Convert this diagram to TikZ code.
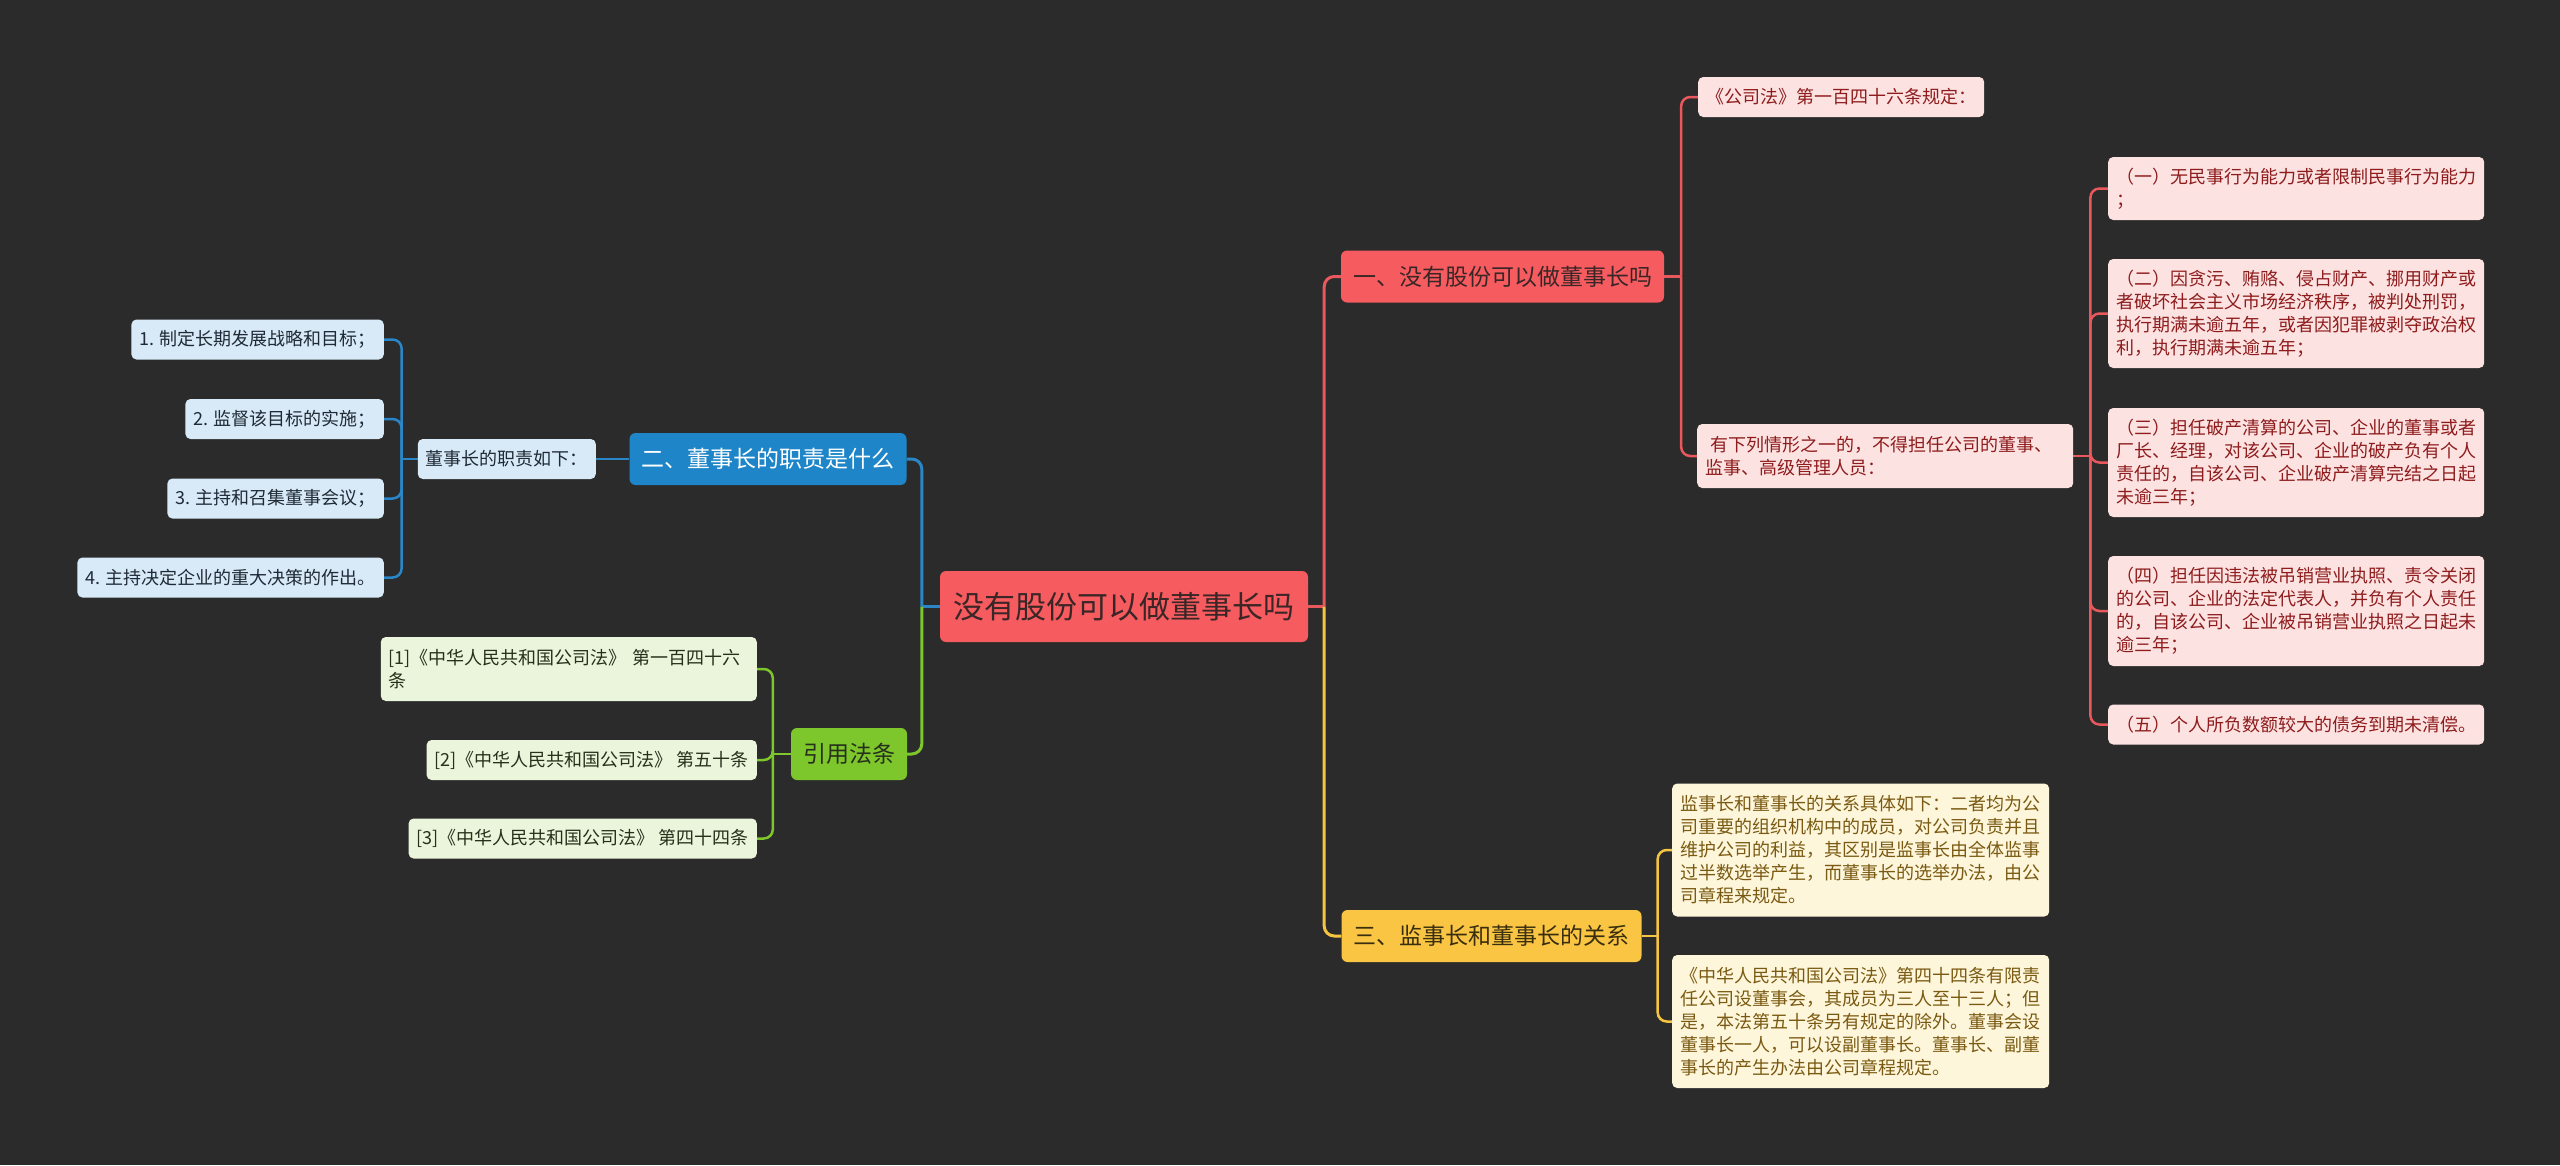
\documentclass[tikz,border=0pt]{standalone}
\usepackage{fontspec}
\setmainfont{Noto Sans CJK SC}
\usetikzlibrary{backgrounds,calc}
\definecolor{bg}{HTML}{2B2B2B}
\definecolor{rootfill}{HTML}{F65B5F}
\definecolor{darktext}{HTML}{3A2626}
\definecolor{redline}{HTML}{E9585D}
\definecolor{pinkfill}{HTML}{FDE2E2}
\definecolor{pinktext}{HTML}{8E1C1C}
\definecolor{bluefill}{HTML}{1E86C8}
\definecolor{blueline}{HTML}{2A86C6}
\definecolor{lbluefill}{HTML}{D8EAF7}
\definecolor{bluetext}{HTML}{1F2A36}
\definecolor{yelfill}{HTML}{F9C542}
\definecolor{yeltext}{HTML}{3A2E10}
\definecolor{yelline}{HTML}{F5C443}
\definecolor{creamfill}{HTML}{FEF6DA}
\definecolor{creamtext}{HTML}{7A5A12}
\definecolor{grnfill}{HTML}{7DC62B}
\definecolor{grnline}{HTML}{7DC62B}
\definecolor{lgrnfill}{HTML}{EAF5DB}
\definecolor{grntext}{HTML}{26301C}
\begin{document}
\begin{tikzpicture}[x=1pt,y=-1pt,
  rootbox/.style={rounded corners=6pt, fill=rootfill, text=darktext, font=\fontsize{31}{38}\selectfont, minimum width=368pt, minimum height=71pt, inner sep=0pt},
  branch/.style={rounded corners=6pt, font=\fontsize{23}{28}\selectfont, minimum height=52pt, inner xsep=12pt, inner ysep=0pt},
  leaf/.style={rounded corners=5pt, inner xsep=8pt, inner ysep=4pt, font=\fontsize{18}{23}\selectfont, minimum height=40pt},
  leafA/.style={leaf, fill=pinkfill, text=pinktext},
  leafB/.style={leaf, fill=lbluefill, text=bluetext},
  leafC/.style={leaf, fill=creamfill, text=creamtext},
  leafD/.style={leaf, fill=lgrnfill, text=grntext},
  multi/.style={text width=#1, align=left},
  conn/.style={line width=2.5pt, rounded corners=9pt},
  rootconn/.style={line width=3pt, rounded corners=10pt}
]
\useasboundingbox (0,0) rectangle (2560,1165);

% root and branches
\node[rootbox] (root) at (1124,606.5) {没有股份可以做董事长吗};
\node[branch, fill=rootfill, text=darktext, minimum width=321pt] (A) at (1502.5,276.5) {一、没有股份可以做董事长吗};
\node[branch, fill=bluefill, text=white, minimum width=276pt] (B) at (768,459) {二、董事长的职责是什么};
\node[branch, fill=yelfill, text=yeltext, minimum width=299pt] (C) at (1491.5,936) {三、监事长和董事长的关系};
\node[branch, fill=grnfill, text=grntext, minimum width=114pt] (D) at (849,754) {引用法条};

% branch A leaves
\node[leafA, anchor=west] (a1) at (1698,97) {《公司法》第一百四十六条规定：};
\node[leafA, anchor=west, multi=360pt, minimum height=64pt] (a2) at (1697,456) {\hspace*{0.3em}有下列情形之一的，不得担任公司的董事、\\监事、高级管理人员：};
\node[leafA, anchor=west, multi=360pt, minimum height=63pt] (a2a) at (2108,188.5) {（一）无民事行为能力或者限制民事行为能力\\；};
\node[leafA, anchor=west, multi=360pt, minimum height=109pt] (a2b) at (2108,313.5) {（二）因贪污、贿赂、侵占财产、挪用财产或\\者破坏社会主义市场经济秩序，被判处刑罚，\\执行期满未逾五年，或者因犯罪被剥夺政治权\\利，执行期满未逾五年；};
\node[leafA, anchor=west, multi=360pt, minimum height=109pt] (a2c) at (2108,462.5) {（三）担任破产清算的公司、企业的董事或者\\厂长、经理，对该公司、企业的破产负有个人\\责任的，自该公司、企业破产清算完结之日起\\未逾三年；};
\node[leafA, anchor=west, multi=360pt, minimum height=110pt] (a2d) at (2108,611) {（四）担任因违法被吊销营业执照、责令关闭\\的公司、企业的法定代表人，并负有个人责任\\的，自该公司、企业被吊销营业执照之日起未\\逾三年；};
\node[leafA, anchor=west] (a2e) at (2108,724.5) {（五）个人所负数额较大的债务到期未清偿。};

% branch C leaves
\node[leafC, anchor=west, multi=361pt, minimum height=133pt] (c1) at (1672,850) {监事长和董事长的关系具体如下：二者均为公\\司重要的组织机构中的成员，对公司负责并且\\维护公司的利益，其区别是监事长由全体监事\\过半数选举产生，而董事长的选举办法，由公\\司章程来规定。};
\node[leafC, anchor=west, multi=361pt, minimum height=133pt] (c2) at (1672,1021.5) {《中华人民共和国公司法》第四十四条有限责\\任公司设董事会，其成员为三人至十三人；但\\是，本法第五十条另有规定的除外。董事会设\\董事长一人，可以设副董事长。董事长、副董\\事长的产生办法由公司章程规定。};

% branch B leaves
\node[leafB, anchor=east] (b1) at (596,459) {董事长的职责如下：};
\node[leafB, anchor=east] (b11) at (384,339.5) {1. 制定长期发展战略和目标；};
\node[leafB, anchor=east] (b12) at (384,419) {2. 监督该目标的实施；};
\node[leafB, anchor=east] (b13) at (384,498.5) {3. 主持和召集董事会议；};
\node[leafB, anchor=east] (b14) at (384,577.5) {4. 主持决定企业的重大决策的作出。};

% branch D leaves
\node[leafD, anchor=east, multi=360pt, minimum height=64pt] (d1) at (757,669) {[1]《中华人民共和国公司法》 第一百四十六\\条};
\node[leafD, anchor=east] (d2) at (757,760) {[2]《中华人民共和国公司法》 第五十条};
\node[leafD, anchor=east] (d3) at (757,838.5) {[3]《中华人民共和国公司法》 第四十四条};

\begin{scope}[on background layer]
\fill[bg] (0,0) rectangle (2560,1165);
% junction points
\coordinate (rR) at ($(root.east)+(16,0)$);
\coordinate (rL) at ($(root.west)+(-18,0)$);
\coordinate (jA) at ($(A.east)+(17,0)$);
\coordinate (jA2) at ($(a2.east)+(17,0)$);
\coordinate (jC) at ($(C.east)+(16,0)$);
\coordinate (jB1) at ($(b1.west)+(-16,0)$);
\coordinate (jD) at ($(D.west)+(-18,0)$);
% root connectors
\draw[rootconn, redline] (root.east) -- (rR);
\draw[rootconn, redline] (rR) |- (A.west);
\draw[rootconn, yelline] (rR) |- (C.west);
\draw[rootconn, blueline] (root.west) -- (rL);
\draw[rootconn, blueline] (rL) |- (B.east);
\draw[rootconn, grnline] (rL) |- (D.east);
% A
\draw[conn, redline] (A.east) -- (jA);
\foreach \c in {a1,a2} \draw[conn, redline] (jA) |- (\c.west);
\draw[conn, redline] (a2.east) -- (jA2);
\foreach \c in {a2a,a2b,a2c,a2d,a2e} \draw[conn, redline] (jA2) |- (\c.west);
% C
\draw[conn, yelline] (C.east) -- (jC);
\foreach \c in {c1,c2} \draw[conn, yelline] (jC) |- (\c.west);
% B
\draw[conn, blueline] (B.west) -- (b1.east);
\draw[conn, blueline] (b1.west) -- (jB1);
\foreach \c in {b11,b12,b13,b14} \draw[conn, blueline] (jB1) |- (\c.east);
% D
\draw[conn, grnline] (D.west) -- (jD);
\foreach \c in {d1,d2,d3} \draw[conn, grnline] (jD) |- (\c.east);
\end{scope}
\end{tikzpicture}
\end{document}
